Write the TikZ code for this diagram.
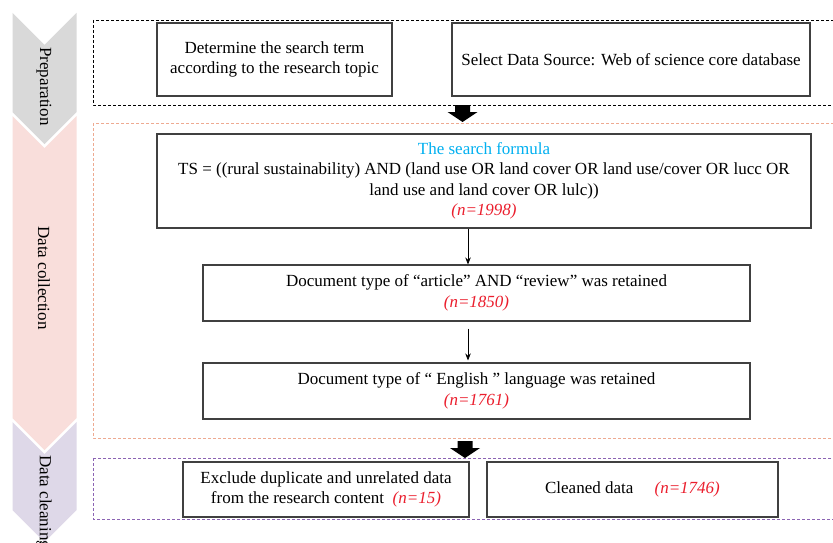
\documentclass[tikz,border=0pt]{standalone}
\usepackage{fontspec}
\setmainfont{Liberation Serif}
\usetikzlibrary{arrows.meta}
\definecolor{prepgray}{RGB}{217,217,217}
\definecolor{collpink}{RGB}{249,222,219}
\definecolor{cleanlav}{RGB}{222,216,232}
\definecolor{boxline}{RGB}{64,64,64}
\definecolor{salmonline}{RGB}{238,170,145}
\definecolor{purpleline}{RGB}{140,100,180}
\definecolor{numred}{RGB}{235,30,45}
\definecolor{formcyan}{RGB}{0,176,240}
\newcommand{\nval}[1]{{\color{numred}\itshape #1}}
\tikzset{
  box/.style={draw=boxline, line width=1.1pt, fill=white, align=center, inner sep=2pt,
              font=\fontsize{17}{20.5}\selectfont},
  stageframe/.style={dash pattern=on 3pt off 2pt, line width=0.8pt},
  stagelabel/.style={rotate=-90, font=\fontsize{17}{20}\selectfont, inner sep=0pt},
  thinarrow/.style={draw=black, line width=0.8pt, -{Stealth[length=7pt,width=5.5pt]}},
  bigarrow/.pic={\fill[black] (-7.5,0) -- (7.5,0) -- (7.5,7) -- (15,7) -- (0,17) -- (-15,7) -- (-7.5,7) -- cycle;}
}
\begin{document}
\begin{tikzpicture}[x=1pt,y=-1pt]
\useasboundingbox[fill=white] (0,0) rectangle (833,543);

% chevrons
\fill[prepgray] (12.5,13) -- (44.5,45) -- (76.5,13) -- (76.5,112) -- (44.5,144) -- (12.5,112) -- cycle;
\fill[collpink] (12.5,116) -- (44.5,148) -- (76.5,116) -- (76.5,418) -- (44.5,450) -- (12.5,418) -- cycle;
\fill[cleanlav] (12.5,422) -- (44.5,454) -- (76.5,422) -- (76.5,510) -- (44.5,542) -- (12.5,510) -- cycle;
\node[stagelabel] (lprep) at (44,86.5) {Preparation};
\node[stagelabel] (lcoll) at (44,278) {Data collection};
\node[stagelabel, anchor=west] (lclean) at (44,455) {Data cleaning};

% stage frames
\draw[stageframe, draw=black] (93,20) rectangle (836,105);
\draw[stageframe, draw=salmonline] (93,123) rectangle (836,438);
\draw[stageframe, draw=purpleline] (93,458) rectangle (836,519);

% boxes
\node[box, minimum width=235pt, minimum height=73pt] (det) at (274.5,59.5)
  {Determine the search term\\according to the research topic};
\node[box, minimum width=358pt, minimum height=73pt] (src) at (631,59.5)
  {Select Data Source: Web of science core database};
\node[box, minimum width=654pt, minimum height=94pt] (form) at (484,181)
  {{\color{formcyan}The search formula}\\
   TS = ((rural sustainability) AND (land use OR land cover OR land use/cover OR lucc OR\\
   land use and land cover OR lulc))\\
   \nval{(n=1998)}};
\node[box, minimum width=547pt, minimum height=56pt] (art) at (476.5,293)
  {Document type of “article” AND “review” was retained\\\nval{(n=1850)}};
\node[box, minimum width=547pt, minimum height=56pt] (eng) at (476.5,391)
  {Document type of “ English ” language was retained\\\nval{(n=1761)}};
\node[box, minimum width=286pt, minimum height=55pt] (excl) at (326,489.5)
  {Exclude duplicate and unrelated data\\from the research content \ \nval{(n=15)}};
\node[box, minimum width=291pt, minimum height=55pt] (clean) at (632.5,489.5)
  {Cleaned data \quad \nval{(n=1746)}};

% connectors
\draw[thinarrow] (468,0 |- form.south) -- (468,0 |- art.north);
\draw[thinarrow, shorten <=7pt, shorten >=2pt] (468,0 |- art.south) -- (468,0 |- eng.north);
\pic at (462.5,105) {bigarrow};
\pic at (465,441) {bigarrow};
\end{tikzpicture}
\end{document}
